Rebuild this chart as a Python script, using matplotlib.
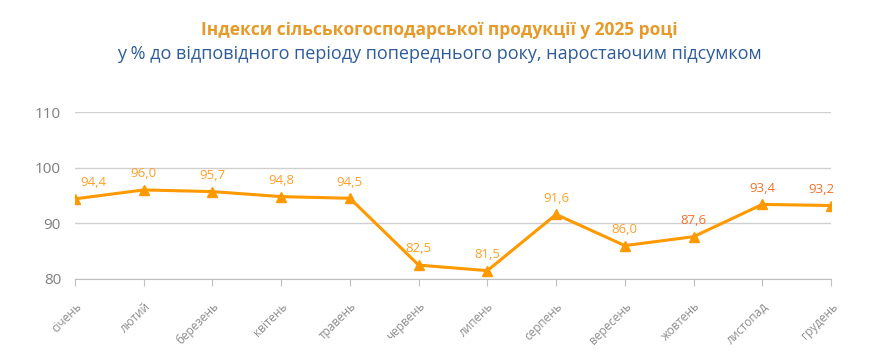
import matplotlib.pyplot as plt

months = ["січень", "лютий", "березень", "квітень", "травень", "червень",
          "липень", "серпень", "вересень", "жовтень", "листопад", "грудень"]
values = [94.4, 96.0, 95.7, 94.8, 94.5, 82.5, 81.5, 91.6, 86.0, 87.6, 93.4, 93.2]
label_colors = ["#FFA028"] * 9 + ["#F5702A", "#F5702A", "#F5702A"]
yticks = [80, 90, 100, 110]

plt.rcParams['font.family'] = ['Open Sans', 'DejaVu Sans']

fig = plt.figure(figsize=(8.89, 3.62), dpi=100)
ax = fig.add_axes([75 / 889, 1 - 279 / 362, (831 - 75) / 889, (279 - 112) / 362])

x = list(range(len(months)))
ax.plot(x, values, color="#FF9900", linewidth=2.2, marker="^", markersize=6.5, zorder=3)

for xi, v, c in zip(x, values, label_colors):
    dx = 0
    if xi == 0:
        dx = 13
    elif xi == len(x) - 1:
        dx = -7
    ax.annotate(f"{v:.1f}".replace(".", ","), (xi, v), xytext=(dx, 7),
                textcoords="offset points", ha="center", va="bottom",
                fontsize=9.5, color=c)

ax.set_xlim(0, 11)
ax.set_ylim(80, 110)
ax.set_yticks(yticks)
ax.set_yticklabels([str(t) for t in yticks], fontsize=11, color="#7F7F7F")
ax.set_xticks(x)
ax.set_xticklabels(months, rotation=45, ha="right", rotation_mode="anchor",
                   fontsize=8.5, color="#8C8C8C")
ax.tick_params(axis="y", length=0, pad=10)
ax.tick_params(axis="x", length=5, color="#BFBFBF", pad=10)
ax.grid(axis="y", color="#D0D0D0", linewidth=1)
ax.set_axisbelow(True)
for s in ["top", "right", "left"]:
    ax.spines[s].set_visible(False)
ax.spines["bottom"].set_color("#BFBFBF")

fig.text(439 / 889, 1 - 30 / 362, "Індекси сільськогосподарської продукції у 2025 році",
         ha="center", va="center", fontsize=12.5, fontweight="bold", color="#E59A2A")
fig.text(439 / 889, 1 - 54 / 362, "у % до відповідного періоду попереднього року, наростаючим підсумком",
         ha="center", va="center", fontsize=13, color="#2E5C9A")

fig.savefig("out.png", dpi=100)
